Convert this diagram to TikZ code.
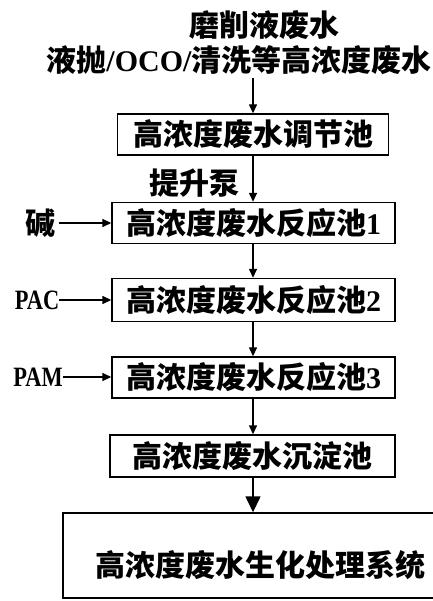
\documentclass[tikz,border=0pt]{standalone}
\usepackage{fontspec}
\usepackage{graphicx}
\setmainfont{Liberation Serif}
\newfontfamily\cjk{Noto Sans CJK SC}
\usetikzlibrary{arrows.meta}
\tikzset{
  box/.style={draw, line width=1.4pt, inner sep=0pt, minimum height=41pt, font=\fontsize{30}{32}\selectfont\bfseries},
  txt/.style={inner sep=0pt, font=\fontsize{30}{32}\selectfont\bfseries},
  lat/.style={inner sep=0pt, font=\fontsize{28}{30}\selectfont\bfseries},
  arr/.style={line width=1.4pt, -{Triangle[length=9pt,width=8pt]}},
  bigarr/.style={line width=1.4pt, -{Triangle[length=16pt,width=15pt]}},
}
\begin{document}
\begin{tikzpicture}[x=1pt,y=-1pt]
\useasboundingbox (0,0) rectangle (432,601);
\node[txt] (t1) at (264,25) {\cjk 磨削液废水};
\node[txt] (t2) at (239,60) {{\cjk 液抛}/OCO/{\cjk 清洗等高浓度废水}};
\coordinate (t2b) at (253,78);
\node[box, minimum width=271pt] (b1) at (253,134.5) {\cjk 高浓度废水调节池};
\node[box, minimum width=283pt] (b2) at (253.5,223) {{\cjk 高浓度废水反应池}1};
\node[box, minimum width=283pt, minimum height=43pt] (b3) at (253.5,300) {{\cjk 高浓度废水反应池}2};
\node[box, minimum width=283pt] (b4) at (253.5,377.5) {{\cjk 高浓度废水反应池}3};
\node[box, minimum width=285pt, minimum height=42pt] (b5) at (252.5,456) {\cjk 高浓度废水沉淀池};
\node[draw, line width=1.4pt, minimum width=377pt, minimum height=85pt, inner sep=0pt] (sys) at (251.5,555.5) {};
\node[txt] (systxt) at (260,565) {\cjk 高浓度废水生化处理系统};
\node[txt] (pump) at (194,183) {\cjk 提升泵};
\node[txt] (alk) at (40,223) {\cjk 碱};
\node[lat] (pac) at (37,300) {\scalebox{0.8}[1]{PAC}};
\node[lat] (pam) at (38,377) {\scalebox{0.8}[1]{PAM}};
\draw[arr] (t2b) -- (b1.north -| t2b);
\draw[arr] (b1.south -| t2b) -- (b2.north -| t2b);
\draw[arr] (b2.south -| t2b) -- (b3.north -| t2b);
\draw[arr] (b3.south -| t2b) -- (b4.north -| t2b);
\draw[arr] (b4.south -| t2b) -- (b5.north -| t2b);
\draw[bigarr] (b5.south -| t2b) -- (sys.north -| t2b);
\draw[arr] (alk.east) ++(4,0) coordinate (alke) (alke) -- (b2.west |- alke);
\draw[arr] (pac.east) -- (b3.west |- pac.east);
\draw[arr] (pam.east) -- (b4.west |- pam.east);
\end{tikzpicture}
\end{document}
